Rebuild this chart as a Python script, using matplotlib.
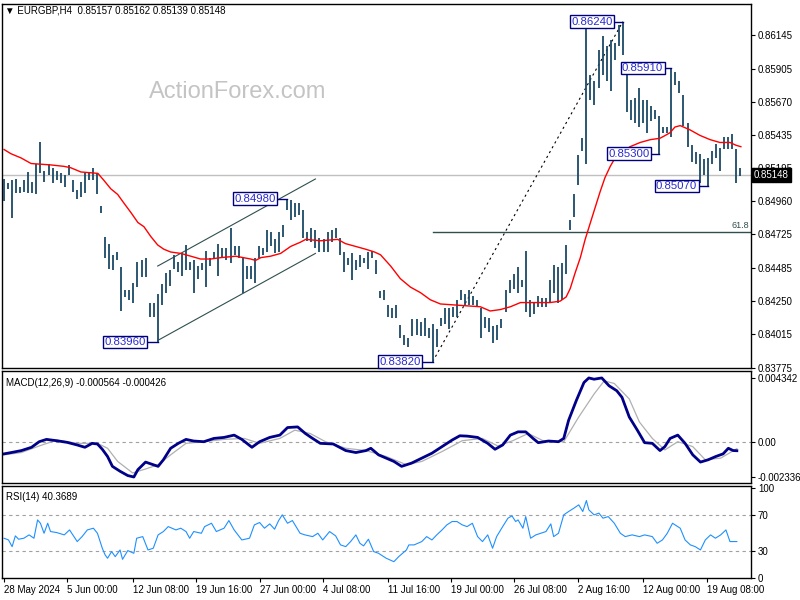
import matplotlib
matplotlib.use('Agg')
import matplotlib.pyplot as plt

plt.rcParams['font.family'] = ['Liberation Sans', 'DejaVu Sans']

# ---- EURGBP H4 bars (high / low) ----
highs = [
    .8512, .8509, .8511, .8512, .8506, .8511, .8517, .8510, .8523, .8538,
    .8518, .8523, .8520, .8518, .8516, .8515, .8522, .8511, .8504, .8510,
    .8516, .8516, .8520, .8516, .8493, .8471, .8466, .8458, .8460, .8449,
    .8433, .8433, .8438, .8453, .8454, .8456, .8424, .8424, .8430, .8437,
    .8445, .8447, .8458, .8453, .8459, .8465, .8453,
    .8454, .8450, .8452, .8461, .8456, .8460, .8466, .8463, .8463, .8477,
    .8464, .8464, .8456, .8450, .8450, .8456, .8464, .8463, .8476, .8474,
    .8469, .8474, .8479, .8498, .8497, .8495, .8495, .8490, .8474, .8477,
    .8476, .8470, .8469, .8474, .8476, .8477, .8470, .8460, .8456, .8459,
    .8454, .8458, .8456, .8460, .8461,
    .8454, .8432, .8433, .8422, .8420, .8422, .8408, .8401, .8399, .8412,
    .8412, .8410, .8413, .8406, .8409, .8405, .8413, .8420, .8420, .8421,
    .8426, .8433, .8430, .8433, .8429, .8426, .8420, .8414, .8413, .8407,
    .8408, .8412, .8433, .8440, .8444, .8449, .8440, .8461, .8426, .8424,
    .8429, .8427, .8427, .8440, .8451, .8449,
    .8452, .8465, .8483, .8501, .8529, .8541, .8619, .8586, .8582, .8604,
    .8614, .8607, .8611, .8609, .8622, .8624, .8586, .8568, .8570, .8577,
    .8568, .8568, .8564, .8561, .8557, .8549, .8549, .8591, .8588, .8582,
    .8572, .8552, .8536, .8531, .8530, .8526, .8527, .8532, .8537, .8534,
    .8542, .8542, .8544, .8533, .8520,
]
lows = [
    .8496, .8505, .8484, .8502, .8502, .8503, .8502, .8502, .8501, .8516,
    .8510, .8515, .8509, .8511, .8509, .8506, .8515, .8503, .8498, .8499,
    .8502, .8511, .8511, .8501, .8488, .8456, .8448, .8447, .8454, .8418,
    .8428, .8426, .8424, .8435, .8442, .8442, .8414, .8414, .8396, .8422,
    .8431, .8436, .8448, .8446, .8443, .8447, .8447,
    .8431, .8441, .8447, .8435, .8450, .8456, .8443, .8456, .8454, .8452,
    .8458, .8456, .8431, .8441, .8441, .8438, .8456, .8458, .8460, .8464,
    .8459, .8460, .8471, .8490, .8483, .8485, .8486, .8470, .8468, .8467,
    .8463, .8460, .8460, .8460, .8467, .8470, .8458, .8446, .8451, .8440,
    .8447, .8449, .8452, .8448, .8456,
    .8444, .8427, .8426, .8414, .8413, .8413, .8399, .8394, .8392, .8400,
    .8401, .8400, .8400, .8399, .8382, .8392, .8407, .8409, .8405, .8414,
    .8414, .8426, .8422, .8422, .8422, .8421, .8399, .8406, .8403, .8395,
    .8397, .8406, .8417, .8431, .8434, .8431, .8435, .8417, .8414, .8416,
    .8421, .8421, .8421, .8424, .8431, .8424,
    .8426, .8444, .8476, .8485, .8508, .8532, .8523, .8568, .8565, .8577,
    .8586, .8582, .8575, .8597, .8607, .8600, .8560, .8554, .8552, .8549,
    .8552, .8545, .8553, .8555, .8530, .8545, .8545, .8542, .8579, .8573,
    .8550, .8535, .8524, .8523, .8509, .8515, .8507, .8523, .8527, .8518,
    .8533, .8533, .8533, .8509, .8514,
]
last_price = 0.85148

# moving average (red line), points at bar positions
ma_bars = [0, 1.7, 4.2, 6.7, 11.6, 14.8, 16.5, 19, 23.2, 24.7, 26.4, 28.1, 29.6,
           31.4, 33.1, 34.6, 36.3, 38, 39.5, 41.2, 43.7, 46.2, 48.6, 51.1, 53.6,
           57.3, 61, 62.2, 63.5, 65.9, 68.4, 70.9, 73.3, 74.6, 78.3, 82.5, 84.4,
           86.9, 89.4, 91.6, 93.1, 95.6, 98, 100.5, 103, 105.4, 107.9, 112.8,
           117.8, 120.2, 122.7, 125.2, 127.7, 135, 137.5, 139, 140, 141.2, 142.5,
           143.7, 145, 146.2, 147.4, 148.6, 149.9, 151.1, 152.3, 154.8, 157.3,
           159.8, 162.2, 163.5, 164.7, 165.9, 167.2, 169.6, 172.1, 174.6, 177,
           179.5, 181, 182.2]
ma_values = [.8533, .8530, .8527, .8523, .8522, .8521, .8520, .8517, .8516, .8511,
             .8505, .8501, .8495, .8488, .8481, .8478, .8471, .8465, .8462, .8460,
             .8459, .8457, .8455, .8455, .8456, .8457, .8455, .8454, .8456, .8457,
             .8459, .8464, .8467, .8469, .8468, .8469, .8466, .8464, .8462, .8460,
             .8458, .8450, .8441, .8435, .8431, .8426, .8423, .8422, .8421, .8418,
             .8419, .8421, .8424, .8424, .8425, .8428, .8434, .8445, .8456, .8469,
             .8481, .8492, .8503, .8513, .8521, .8527, .8530, .8535, .8538, .8540,
             .8541, .8543, .8545, .8549, .8550, .8547, .8543, .8540, .8538, .8538,
             .8536, .8535]

# labelled swing points: price text, price, bar index, box right edge
swing_labels = ['0.83960', '0.84980', '0.83820', '0.86240', '0.85910', '0.85300', '0.85070']
swing_prices = [0.8396, 0.8498, 0.8382, 0.8624, 0.8591, 0.8530, 0.8507]
swing_bars = [38, 70, 106, 153, 165, 162, 174]
swing_box_right = [35.6, 67.7, 103.5, 151.1, 163.5, 160.2, 171.9]

# channel and retracement lines
channel_bars = [38, 77]
channel_lower = [0.8397, 0.8459]
channel_upper = [0.8450, 0.8512]
fib_bars = [106, 153]
fib_prices = [0.8382, 0.8624]
fib_618 = 0.84744

price_ticks = [0.86145, 0.85905, 0.85670, 0.85435, 0.85195, 0.84960,
               0.84725, 0.84485, 0.84250, 0.84015, 0.83775]

# MACD(12,26,9)
macd_bars = [0, 1.8, 4.3, 6.8, 8.7, 10.5, 13.0, 15.6, 18.1, 20.0, 21.8, 23.1, 24.3,
             25.6, 26.8, 28.7, 30.6, 32.1, 33.1, 35.0, 36.9, 38.1, 39.4, 41.2, 43.1,
             45.0, 46.9, 49.4, 51.9, 54.4, 56.9, 58.8, 61.3, 63.2, 65.7, 68.2, 70.1,
             72.6, 74.5, 76.3, 78.2, 81.4, 84.5, 87.0, 89.5, 90.7, 92.6, 94.5, 96.4,
             98.3, 100.8, 103.3, 105.8, 108.3, 110.8, 112.7, 114.5, 117.1, 119.6,
             121.4, 123.3, 125.2, 127.1, 129.0, 130.8, 132.1, 134.6, 137.1, 138.4,
             139.6, 141.5, 143.4, 144.6, 145.9, 147.8, 149.6, 151.5, 152.8, 154.6,
             156.6, 158.4, 160.3, 162.2, 163.4, 164.7, 166.6, 168.4, 170.3, 172.2,
             174.1, 176.0, 177.8, 179.1, 180.3, 181.2]
macd_main = [-0.000776, -0.000687, -0.000554, -0.000333, 0.000044, 0.000200,
             0.000111, 0.0, -0.000177, -0.000333, -0.000067, -0.000111, -0.000466,
             -0.000953, -0.001618, -0.001951, -0.002239, -0.002336, -0.001840,
             -0.001330, -0.001508, -0.001618, -0.001175, -0.000399, -0.000067,
             0.000200, 0.000089, 0.000044, 0.000266, 0.000333, 0.000488, 0.000200,
             -0.000333, 0.000044, 0.000333, 0.000488, 0.000998, 0.001042, 0.000599,
             0.000266, -0.000067, -0.000111, -0.000554, -0.000687, -0.000554,
             -0.000399, -0.000842, -0.001064, -0.001286, -0.001618, -0.001397,
             -0.001064, -0.000732, -0.000288, 0.000155, 0.000443, 0.000421,
             0.000333, -0.000067, -0.000466, -0.000177, 0.000488, 0.000709,
             0.000709, 0.000266, -0.000022, 0.000089, 0.000044, 0.000266, 0.001485,
             0.002816, 0.004035, 0.004342, 0.004257, 0.004342, 0.003813, 0.003481,
             0.003037, 0.001707, 0.000820, -0.000022, -0.000067, -0.000554,
             -0.000288, 0.000266, 0.000488, -0.000067, -0.000842, -0.001330,
             -0.001175, -0.000953, -0.000776, -0.000399, -0.000554, -0.000564]
signal_bars = [0, 4.3, 8.7, 13.0, 18.1, 23.1, 25.6, 28.1, 31.8, 35.0, 38.1, 41.2,
               45.0, 49.4, 54.4, 59.4, 63.2, 68.2, 71.9, 75.7, 79.5, 84.5, 89.5,
               94.5, 99.5, 103.3, 108.3, 113.3, 118.3, 122.1, 125.8, 129.6, 133.3,
               138.4, 142.1, 145.9, 148.4, 150.9, 154.6, 157.1, 160.3, 163.4, 166.6,
               170.3, 173.4, 177.2, 181.2]
macd_signal = [-0.000842, -0.000687, -0.000244, 0.000155, -0.000067, -0.000067,
               -0.000399, -0.001286, -0.002062, -0.001796, -0.001508, -0.000842,
               -0.000067, 0.000044, 0.000200, 0.000266, -0.000067, 0.000266,
               0.000820, 0.000599, 0.000044, -0.000399, -0.000554, -0.000953,
               -0.001508, -0.001286, -0.000621, 0.000111, 0.000266, -0.000244,
               0.000111, 0.000599, 0.000111, 0.000044, 0.001707, 0.003259, 0.004146,
               0.003968, 0.002926, 0.001375, 0.000266, -0.000510, 0.000044,
               -0.000288, -0.001175, -0.001064, -0.000426]

# RSI(14)
rsi_bars = [0, 1.1, 2.0, 2.8, 3.6, 4.9, 6.2, 7.4, 8.3, 9.0, 9.9, 10.8, 11.5, 13.0,
            14.9, 16.2, 18.1, 19.3, 20.6, 22.1, 23.1, 24.3, 25.0, 25.6, 26.6, 27.5,
            28.7, 29.3, 30.6, 32.1, 32.8, 34.3, 35.6, 36.9, 38.1, 39.4, 40.6, 42.5,
            43.7, 45.0, 45.9, 46.9, 48.8, 49.6, 51.3, 52.5, 54.4, 55.6, 56.9, 58.8,
            60.7, 61.9, 63.2, 64.4, 65.7, 66.9, 67.9, 68.8, 70.1, 71.3, 73.2, 74.4,
            76.3, 77.6, 78.8, 80.5, 82.0, 83.2, 84.5, 85.7, 87.0, 88.0, 88.9, 90.1,
            91.4, 92.6, 94.5, 96.4, 97.6, 99.5, 100.1, 101.4, 103.3, 104.5, 105.8,
            107.0, 108.3, 109.5, 110.8, 112.0, 113.3, 114.5, 115.8, 117.1, 118.3,
            119.6, 120.8, 121.8, 123.3, 124.6, 125.6, 126.5, 127.1, 128.3, 129.0,
            130.2, 131.5, 132.7, 134.0, 135.2, 135.9, 137.1, 137.7, 138.4, 139.6,
            140.9, 142.1, 143.1, 144.0, 144.6, 145.9, 147.1, 148.1, 149.4, 150.9,
            152.4, 153.6, 155.3, 157.1, 158.4, 160.3, 161.5, 162.8, 164.0, 165.3,
            167.2, 168.4, 169.7, 170.9, 172.2, 173.4, 174.7, 175.9, 177.2, 178.5,
            179.5, 180.3, 181.2]
rsi_values = [44.1, 42.2, 34.8, 46.7, 43.0, 44.1, 47.8, 44.1, 64.4, 60.7, 49.6, 60.7,
              51.5, 50.4, 47.8, 53.3, 40.4, 45.9, 53.3, 55.2, 49.6, 33.0, 25.6, 21.9,
              29.3, 23.7, 31.1, 20.7, 30.4, 27.4, 44.1, 45.9, 31.1, 33.0, 47.8, 51.5,
              57.0, 53.3, 55.2, 51.5, 44.1, 51.5, 49.6, 57.0, 60.7, 51.5, 55.2, 63.7,
              53.3, 42.2, 44.1, 58.9, 61.5, 55.2, 60.0, 54.1, 63.7, 70.0, 60.7, 63.7,
              49.6, 47.8, 45.9, 49.6, 42.2, 51.5, 46.7, 36.7, 34.8, 40.4, 47.8, 38.5,
              35.6, 43.0, 29.3, 27.4, 21.9, 18.1, 23.7, 31.1, 36.7, 36.7, 40.4, 45.9,
              42.2, 47.8, 53.3, 58.9, 62.6, 62.6, 58.9, 57.0, 60.7, 45.9, 40.4, 47.8,
              33.0, 45.9, 57.0, 66.3, 68.9, 62.6, 64.4, 55.2, 68.1, 44.1, 47.8, 49.6,
              51.5, 60.0, 45.9, 49.6, 58.9, 70.0, 73.7, 77.4, 81.1, 73.7, 85.9, 75.6,
              70.0, 71.9, 66.3, 68.1, 60.7, 49.6, 45.9, 47.8, 45.9, 47.8, 45.9, 38.5,
              42.2, 49.6, 60.7, 55.2, 42.2, 36.7, 34.8, 31.1, 42.2, 47.8, 44.1, 47.8,
              53.3, 40.4, 40.4, 40.4]

date_labels = ['28 May 2024', '5 Jun 00:00', '12 Jun 08:00', '19 Jun 16:00',
               '27 Jun 00:00', '4 Jul 08:00', '11 Jul 16:00', '19 Jul 00:00',
               '26 Jul 08:00', '2 Aug 16:00', '12 Aug 00:00', '19 Aug 08:00']
date_bars = [0, 15.6, 31.8, 47.4, 63.2, 78.8, 95, 110.4, 126.2, 142, 158, 173.8]

bar_color = '#1b4a66'
box_text = '#2a2ad0'
box_edge = '#00007a'
line_dark = '#2f4f4f'
small = 7

fig = plt.figure(figsize=(8, 6), dpi=100)
left, width = 2 / 800, 749 / 800
ax_p = fig.add_axes([left, 1 - 368 / 600, width, 364 / 600])
ax_m = fig.add_axes([left, 1 - 483 / 600, width, 112 / 600], sharex=ax_p)
ax_r = fig.add_axes([left, 1 - 578 / 600, width, 92 / 600], sharex=ax_p)

bars = list(range(len(highs)))

# ---- price panel ----
ax_p.axhline(last_price, color='#c0c0c0', lw=1, zorder=1)
ax_p.vlines(bars, lows, highs, color=bar_color, lw=1.3, zorder=3)
ax_p.plot(ma_bars, ma_values, color='red', lw=1, zorder=4)
ax_p.plot(channel_bars, channel_lower, color=line_dark, lw=0.8, zorder=2)
ax_p.plot(channel_bars, channel_upper, color=line_dark, lw=0.8, zorder=2)
ax_p.plot(fib_bars, fib_prices, color='black', lw=0.8, ls=(0, (2, 3)), zorder=2)
ax_p.plot([fib_bars[0], 190], [fib_618, fib_618], color=line_dark, lw=1, zorder=2)
ax_p.text(184.3, fib_618 + 0.0001, '61.8', color=line_dark, fontsize=6.5,
          ha='right', va='bottom')

for lab, p, b, xr in zip(swing_labels, swing_prices, swing_bars, swing_box_right):
    ax_p.plot([xr, b], [p, p], color=box_edge, lw=1, zorder=5)
    ax_p.text(xr - 0.5, p, lab, ha='right', va='center', fontsize=8.2,
              color=box_text, zorder=6,
              bbox=dict(boxstyle='square,pad=0.12', fc='white', ec=box_edge, lw=1))

ax_p.text(0.314, 0.758, 'ActionForex.com', transform=ax_p.transAxes,
          fontsize=17, color='#c4c4c4', ha='center', va='center', zorder=0)

ax_p.set_ylim(0.83774, 0.86366)
ax_p.set_yticks(price_ticks)
ax_p.set_yticklabels(['%.5f' % t for t in price_ticks])
ax_p.text(1.004, last_price, '%.5f' % last_price, transform=ax_p.get_yaxis_transform(),
          ha='left', va='center', color='white', fontsize=small, zorder=10, clip_on=False,
          bbox=dict(boxstyle='square,pad=0.2', fc='black', ec='black'))

# ---- MACD panel ----
ax_m.axhline(0, color='#a0a0a0', lw=0.8, ls=(0, (3, 3)))
ax_m.plot(signal_bars, macd_signal, color='#b0b0b0', lw=0.9)
ax_m.plot(macd_bars, macd_main, color='#000088', lw=2)
ax_m.set_ylim(-0.00274, 0.00481)
ax_m.set_yticks([0.004342, 0.0, -0.002336])
ax_m.set_yticklabels(['0.004342', '0.00', '-0.002336'])
ax_m.text(0.005, 0.94, 'MACD(12,26,9) -0.000564 -0.000426', transform=ax_m.transAxes,
          fontsize=small, va='top', ha='left')

# ---- RSI panel ----
ax_r.axhline(70, color='#a0a0a0', lw=0.8, ls=(0, (3, 3)))
ax_r.axhline(30, color='#a0a0a0', lw=0.8, ls=(0, (3, 3)))
ax_r.plot(rsi_bars, rsi_values, color='#1e90ff', lw=0.8)
ax_r.set_ylim(0, 102)
ax_r.set_yticks([100, 70, 30, 0])
ax_r.set_yticklabels(['100', '70', '30', '0'])
ax_r.text(0.005, 0.93, 'RSI(14) 40.3689', transform=ax_r.transAxes,
          fontsize=small, va='top', ha='left')

for ax in (ax_p, ax_m, ax_r):
    ax.set_xlim(-0.5, 184.7)
    ax.yaxis.tick_right()
    ax.tick_params(axis='y', direction='out', length=3, width=0.8, labelsize=small, pad=2)
    for s in ax.spines.values():
        s.set_linewidth(1)
        s.set_color('black')
    ax.set_facecolor('white')

ax_p.tick_params(axis='x', bottom=False, labelbottom=False)
ax_m.tick_params(axis='x', bottom=False, labelbottom=False)
ax_r.set_xticks(date_bars)
ax_r.set_xticklabels(date_labels, ha='left')
ax_r.tick_params(axis='x', direction='out', length=3, width=0.8, labelsize=small, pad=2)

fig.text(0.006, 0.983, '\u25bc EURGBP,H4  0.85157 0.85162 0.85139 0.85148',
         fontsize=small, va='center', ha='left')

fig.savefig('out.png', dpi=100, facecolor='white')
